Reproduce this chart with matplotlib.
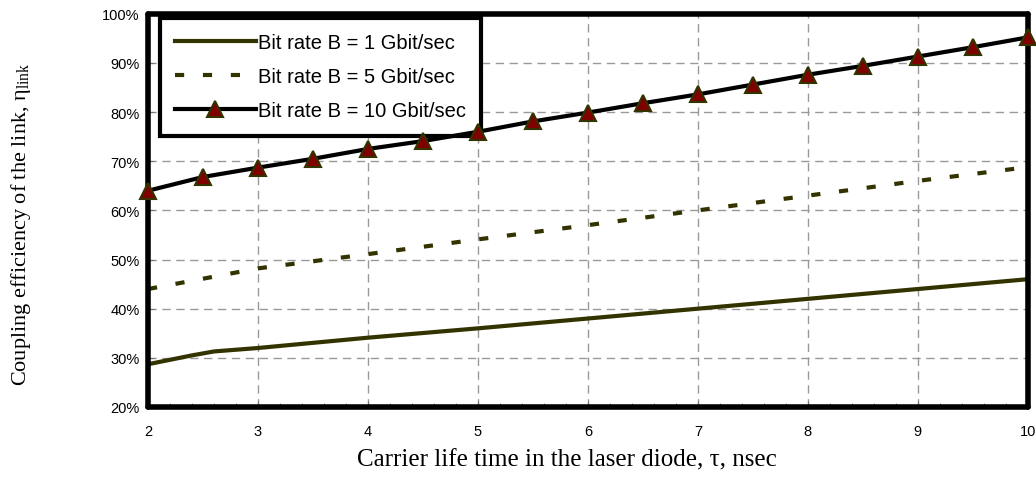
import matplotlib.pyplot as plt
from matplotlib.ticker import MultipleLocator, PercentFormatter

# data (tau in nsec, efficiency in %)
tau_1g = [2, 2.4, 2.6, 3, 4, 5, 6, 7, 8, 9, 10]
eta_1g = [28.7, 30.5, 31.3, 32.0, 34.1, 36.0, 38.0, 40.0, 42.0, 44.0, 46.0]

tau_5g = [2, 3, 4, 5, 6, 7, 8, 9, 10]
eta_5g = [44.0, 48.2, 51.1, 54.1, 57.0, 60.0, 63.0, 66.0, 68.8]

tau_10g = [2, 2.5, 3, 3.5, 4, 4.5, 5, 5.5, 6, 6.5, 7, 7.5, 8, 8.5, 9, 9.5, 10]
eta_10g = [64.0, 66.8, 68.7, 70.5, 72.5, 74.1, 76.0, 78.1, 79.9, 81.8, 83.6,
           85.6, 87.6, 89.4, 91.3, 93.2, 95.2]

labels = ['Bit rate B = 1 Gbit/sec', 'Bit rate B = 5 Gbit/sec', 'Bit rate B = 10 Gbit/sec']

olive = '#333300'
plt.rcParams['font.family'] = ['Liberation Sans', 'DejaVu Sans']

fig = plt.figure(figsize=(10.36, 4.85), dpi=100)
ax = fig.add_axes([0.1429, 0.1588, 0.8491, 0.8107])

ax.plot(tau_1g, eta_1g, color=olive, lw=3, label=labels[0], zorder=3)
ax.plot(tau_5g, eta_5g, color=olive, lw=3, dashes=(2.2, 4.5), label=labels[1], zorder=3)
ax.plot(tau_10g, eta_10g, color='black', lw=3, marker='^', markersize=11,
        markerfacecolor='#800000', markeredgecolor=olive, markeredgewidth=1.5,
        label=labels[2], zorder=7, clip_on=False)

ax.set_xlim(2, 10)
ax.set_ylim(20, 100)
ax.xaxis.set_major_locator(MultipleLocator(1))
ax.xaxis.set_minor_locator(MultipleLocator(0.2))
ax.yaxis.set_major_locator(MultipleLocator(10))
ax.yaxis.set_major_formatter(PercentFormatter(decimals=0))

ax.grid(True, which='major', color='#999999', linestyle=(0, (6, 4)), linewidth=1)
ax.tick_params(which='both', direction='in', color='#777777', labelsize=10.5,
               pad=12)
ax.tick_params(which='major', length=4)
ax.tick_params(which='minor', length=3)
ax.tick_params(axis='y', pad=6)

for sp in ax.spines.values():
    sp.set_linewidth(4)
    sp.set_capstyle('round')
    sp.set_zorder(5)

ax.set_xlabel('Carrier life time in the laser diode, \u03c4, nsec',
              family='Liberation Serif', fontsize=18)
ax.set_ylabel('Coupling efficiency of the link, $\\mathregular{\\eta_{link}}$',
              family='Liberation Serif', fontsize=16)
ax.xaxis.set_label_coords(567 / 1036, 1 - 460 / 485, transform=fig.transFigure)
ax.yaxis.set_label_coords(21 / 1036, 1 - 224 / 485, transform=fig.transFigure)
ax.xaxis.label.set_va('center')
ax.yaxis.label.set_va('center')

leg = ax.legend(loc='upper left', bbox_to_anchor=(0.0136, 0.989), borderaxespad=0,
                handlelength=4.0, handletextpad=0.1, labelspacing=0.75,
                borderpad=0.75, numpoints=1, fancybox=False, framealpha=1,
                prop={'family': 'Liberation Sans', 'size': 14.5})
leg.get_frame().set_edgecolor('black')
leg.get_frame().set_linewidth(3)
leg.set_zorder(6)

fig.savefig('out.png', dpi=100)
